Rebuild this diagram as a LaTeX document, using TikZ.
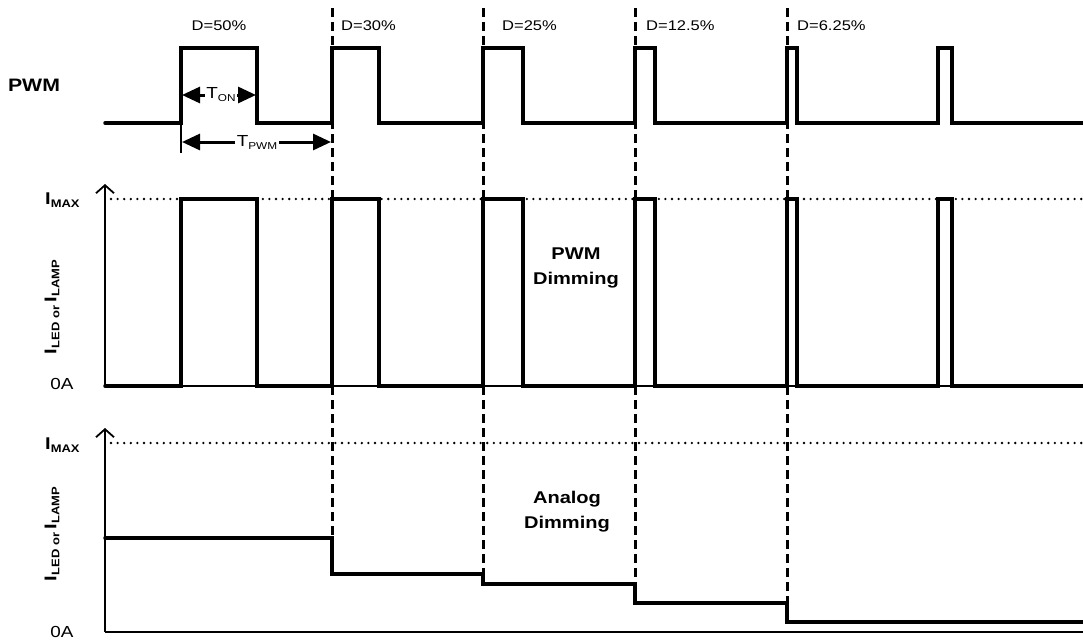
\documentclass[tikz,border=0pt]{standalone}
\usepackage{fontspec}
\setmainfont{Liberation Sans}[FakeStretch=1.18]
\usetikzlibrary{arrows.meta}
\newcommand\lowsub[2][11]{\raisebox{-3pt}{\fontsize{#1}{#1}\selectfont #2}}
\tikzset{
  sig/.style={line width=3.5pt, line join=miter, line cap=round},
  axisline/.style={line width=1.8pt},
  axisarrow/.style={line width=1.8pt, -{Straight Barb[length=8pt,width=18pt,line width=1.8pt]}},
  guide/.style={line width=3pt, dash pattern=on 9pt off 5pt},
  maxline/.style={line width=2.6pt, line cap=round, dash pattern=on 0pt off 6.6pt},
  dimarrow/.style={line width=3pt, -{Triangle[length=18pt,width=16pt]}},
  dlabel/.style={font=\fontsize{14}{14}\selectfont, inner sep=0pt},
  blabel/.style={font=\bfseries\fontsize{17}{17}\selectfont, inner sep=0pt},
  tlabel/.style={font=\fontsize{16}{16}\selectfont, inner sep=1.5pt},
  txt/.style={font=\bfseries\fontsize{17}{25}\selectfont, align=center, inner sep=0pt},
}
\def\pulsetrain#1#2{(105,#2) -- (181,#2) -- (181,#1) -- (257,#1) -- (257,#2) -- (332,#2) -- (332,#1) -- (379,#1) -- (379,#2) -- (483,#2) -- (483,#1) -- (523,#1) -- (523,#2) -- (635,#2) -- (635,#1) -- (655,#1) -- (655,#2) -- (787,#2) -- (787,#1) -- (797,#1) -- (797,#2) -- (938,#2) -- (938,#1) -- (952,#1) -- (952,#2) -- (1083,#2)}
\begin{document}
\begin{tikzpicture}[x=1pt,y=-1pt]
\useasboundingbox[fill=white] (0,0) rectangle (1083,642);

% ---------- top panel (PWM) ----------
\node[blabel, font=\bfseries\fontsize{18}{18}\selectfont] (pwm) at (34,85) {PWM};
\draw[sig] \pulsetrain{48}{123};
\node[dlabel] (d50) at (219,26) {D=50\%};
\node[dlabel, anchor=west] (d30) at (341,26) {D=30\%};
\node[dlabel, anchor=west] (d25) at (502,26) {D=25\%};
\node[dlabel, anchor=west] (d125) at (646,26) {D=12.5\%};
\node[dlabel, anchor=west] (d625) at (797,26) {D=6.25\%};

% T_ON and T_PWM
\coordinate (tick1) at (181,123);
\coordinate (tick2) at (181,153);
\draw[line width=1.8pt] (tick1) -- (tick2);
\node[tlabel] (ton) at (221,95) {T\lowsub[10]{ON}};
\coordinate (tonL) at (182,95);
\coordinate (tonR) at (256,95);
\draw[dimarrow] (ton.west) -- (tonL);
\draw[dimarrow] (ton.east) -- (tonR);
\node[tlabel] (tpwm) at (257,142) {T\lowsub[10]{PWM}};
\coordinate (tpwmL) at (182,142);
\coordinate (tpwmR) at (331,142);
\draw[dimarrow] (tpwm.west) -- (tpwmL);
\draw[dimarrow] (tpwm.east) -- (tpwmR);

% ---------- middle panel (PWM dimming) ----------
\coordinate (ax1b) at (105,386);
\coordinate (ax1t) at (105,184);
\coordinate (ax1r) at (1083,386);
\coordinate (max1a) at (111,199);
\coordinate (max1b) at (1083,199);
\draw[maxline] (max1a) -- (max1b);
\draw[axisline] (ax1b) -- (ax1r);
\draw[axisarrow] (ax1b) -- (ax1t);
\draw[sig] \pulsetrain{199}{386};
\node[blabel, anchor=west] (imax1) at (45,200) {I\lowsub{MAX}};
\node[font=\fontsize{16}{16}\selectfont, inner sep=0pt] (zero1) at (62,384) {0A};
\node[blabel, rotate=90] (ilbl1) at (52,307) {I\lowsub{LED or }I\lowsub{LAMP}};
\node[txt] (pwmdim) at (576,268) {PWM\\Dimming};

% ---------- bottom panel (analog dimming) ----------
\coordinate (ax2b) at (105,632);
\coordinate (ax2t) at (105,428);
\coordinate (ax2r) at (1083,632);
\coordinate (max2a) at (111,443);
\coordinate (max2b) at (1083,443);
\draw[maxline] (max2a) -- (max2b);
\draw[axisline] (ax2b) -- (ax2r);
\draw[axisarrow] (ax2b) -- (ax2t);
\draw[sig] (105,538) -- (332,538) -- (332,574) -- (483,574) -- (483,584) -- (635,584) -- (635,603) -- (787,603) -- (787,622) -- (1083,622);
\node[blabel, anchor=west] (imax2) at (45,445) {I\lowsub{MAX}};
\node[font=\fontsize{16}{16}\selectfont, inner sep=0pt] (zero2) at (62,632) {0A};
\node[blabel, rotate=90] (ilbl2) at (52,534) {I\lowsub{LED or }I\lowsub{LAMP}};
\node[txt] (anadim) at (567,512) {Analog\\Dimming};

% ---------- dashed guides ----------
\coordinate (g1t) at (332,8);  \coordinate (g1b) at (332,538);
\coordinate (g2t) at (483,8);  \coordinate (g2b) at (483,574);
\coordinate (g3t) at (635,8);  \coordinate (g3b) at (635,584);
\coordinate (g4t) at (787,8);  \coordinate (g4b) at (787,603);
\draw[guide] (g1t) -- (g1b);
\draw[guide] (g2t) -- (g2b);
\draw[guide] (g3t) -- (g3b);
\draw[guide] (g4t) -- (g4b);
\end{tikzpicture}
\end{document}
